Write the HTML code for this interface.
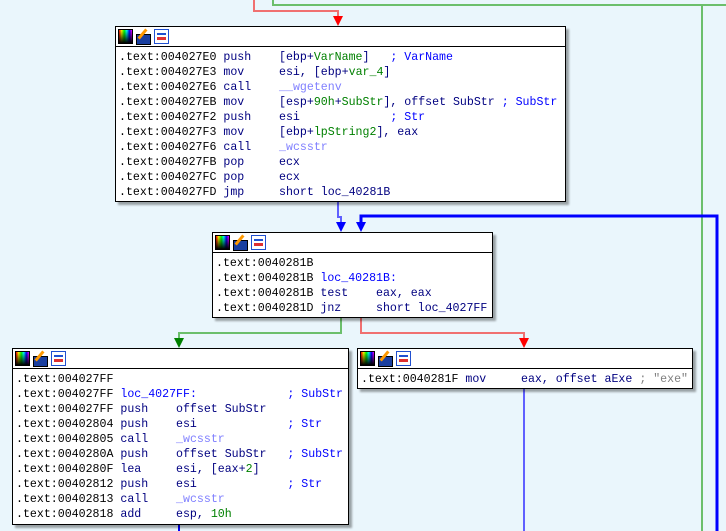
<!DOCTYPE html>
<html><head><meta charset="utf-8"><style>
body{margin:0;width:726px;height:531px;background:#eaf6fc;position:relative;overflow:hidden;font-family:"Liberation Mono",monospace;font-size:11.6px}
.b{position:absolute;background:#fff;border:1px solid #000;box-shadow:3px 3px 2px rgba(0,0,0,.35)}
.h{height:19px;border-bottom:1px solid #000;position:relative}
.ic{position:absolute;top:2px;width:15px;height:15px}
.i1{left:2px;background:linear-gradient(to bottom,transparent,#000),linear-gradient(to right,red,yellow,lime,cyan,blue,magenta);border:1px solid #000;width:13px;height:13px}
.i2{left:20px;background:#1a3fa0;border:1px solid #000;width:13px;height:9px;top:7px}
.i2:after{content:"";position:absolute;left:4px;top:-7px;width:3px;height:12px;background:#f90;transform:rotate(40deg)}
.i3{left:38px;background:#fff;border:1px solid #2050d0;width:13px;height:13px}
.i3:after{content:"";position:absolute;left:2px;top:7px;width:9px;height:3px;background:#e03030}
.i3:before{content:"";position:absolute;left:2px;top:3px;width:9px;height:2px;background:#2050d0}
.t{padding:3px 0 0 3px;line-height:15px;white-space:pre;color:#000080}
.a{color:#000}.g{color:#008000}.bl{color:#0000ff}.p{color:#8080ff}.gr{color:#808080}
svg{position:absolute;left:0;top:0}
</style></head><body>
<svg width="726" height="531">
<g fill="none">
<polyline points="254,0 254,11 338,11 338,18" stroke="#f07070" stroke-width="2"/>
<polyline points="273,0 273,5 726,5" stroke="#6cbf6c" stroke-width="2"/>
<line x1="702" y1="5" x2="702" y2="531" stroke="#6cbf6c" stroke-width="2"/>
<polyline points="717,531 717,216 361,216 361,224" stroke="#0000ff" stroke-width="3"/>
<polyline points="338,202 338,217 341,217 341,224" stroke="#6060ff" stroke-width="2"/>
<polyline points="341,318 341,333 179,333 179,340" stroke="#6cbf6c" stroke-width="2"/>
<polyline points="361,318 361,333 524,333 524,340" stroke="#f07070" stroke-width="2"/>
<line x1="524" y1="389" x2="524" y2="531" stroke="#6060ff" stroke-width="2"/>
<line x1="179" y1="525" x2="179" y2="531" stroke="#0000ff" stroke-width="2"/>
</g>
<path d="M333,16 L343,16 L338,26z" fill="red"/>
<path d="M336,222 L346,222 L341,232z" fill="#0000ff"/>
<path d="M356,222 L366,222 L361,232z" fill="#0000ff"/>
<path d="M174,338 L184,338 L179,348z" fill="#008000"/>
<path d="M519,338 L529,338 L524,348z" fill="red"/>
</svg>

<div class="b" style="left:115px;top:26px;width:449px;height:174px">
<div class="h"><div class="ic i1"></div><div class="ic i2"></div><div class="ic i3"></div></div>
<div class="t"><span class="a">.text:004027E0</span> push    [ebp+<span class="g">VarName</span>]   <span class="bl">; VarName</span>
<span class="a">.text:004027E3</span> mov     esi, [ebp+<span class="g">var_4</span>]
<span class="a">.text:004027E6</span> call    <span class="p">__wgetenv</span>
<span class="a">.text:004027EB</span> mov     [esp+<span class="g">90h</span>+<span class="g">SubStr</span>], offset SubStr <span class="bl">; SubStr</span>
<span class="a">.text:004027F2</span> push    esi             <span class="bl">; Str</span>
<span class="a">.text:004027F3</span> mov     [ebp+<span class="g">lpString2</span>], eax
<span class="a">.text:004027F6</span> call    <span class="p">_wcsstr</span>
<span class="a">.text:004027FB</span> pop     ecx
<span class="a">.text:004027FC</span> pop     ecx
<span class="a">.text:004027FD</span> jmp     short loc_40281B</div>
</div>

<div class="b" style="left:212px;top:232px;width:279px;height:84px">
<div class="h"><div class="ic i1"></div><div class="ic i2"></div><div class="ic i3"></div></div>
<div class="t"><span class="a">.text:0040281B</span>
<span class="a">.text:0040281B</span> <span class="bl">loc_40281B:</span>
<span class="a">.text:0040281B</span> test    eax, eax
<span class="a">.text:0040281D</span> jnz     short loc_4027FF</div>
</div>

<div class="b" style="left:12px;top:348px;width:335px;height:175px">
<div class="h"><div class="ic i1"></div><div class="ic i2"></div><div class="ic i3"></div></div>
<div class="t"><span class="a">.text:004027FF</span>
<span class="a">.text:004027FF</span> <span class="bl">loc_4027FF:</span>             <span class="bl">; SubStr</span>
<span class="a">.text:004027FF</span> push    offset SubStr
<span class="a">.text:00402804</span> push    esi             <span class="bl">; Str</span>
<span class="a">.text:00402805</span> call    <span class="p">_wcsstr</span>
<span class="a">.text:0040280A</span> push    offset SubStr   <span class="bl">; SubStr</span>
<span class="a">.text:0040280F</span> lea     esi, [eax+<span class="g">2</span>]
<span class="a">.text:00402812</span> push    esi             <span class="bl">; Str</span>
<span class="a">.text:00402813</span> call    <span class="p">_wcsstr</span>
<span class="a">.text:00402818</span> add     esp, <span class="g">10h</span></div>
</div>

<div class="b" style="left:357px;top:348px;width:334px;height:39px">
<div class="h"><div class="ic i1"></div><div class="ic i2"></div><div class="ic i3"></div></div>
<div class="t"><span class="a">.text:0040281F</span> mov     eax, offset aExe <span class="gr">; "exe"</span></div>
</div>
</body></html>
